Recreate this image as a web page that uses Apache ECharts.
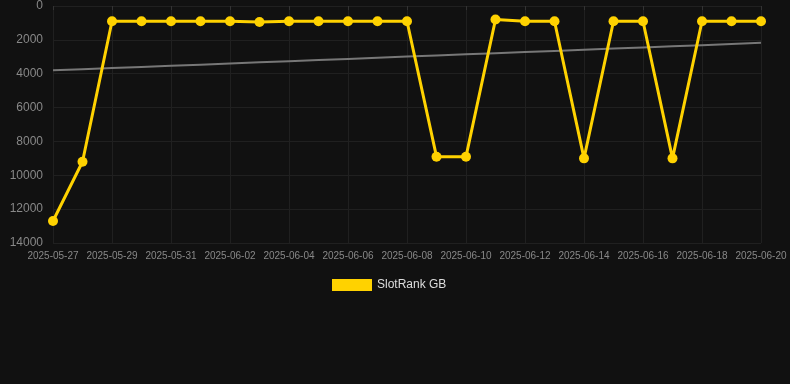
<!DOCTYPE html>
<html>
<head>
<meta charset="utf-8">
<style>
  html, body { margin: 0; padding: 0; background: #111111; }
  #chart { width: 790px; height: 384px; }
</style>
<script src="https://cdn.jsdelivr.net/npm/echarts@6/dist/echarts.min.js"></script>
</head>
<body>
<div id="chart"></div>
<script>
const dates = [
  '2025-05-27', '2025-05-28', '2025-05-29', '2025-05-30', '2025-05-31',
  '2025-06-01', '2025-06-02', '2025-06-03', '2025-06-04', '2025-06-05',
  '2025-06-06', '2025-06-07', '2025-06-08', '2025-06-09', '2025-06-10',
  '2025-06-11', '2025-06-12', '2025-06-13', '2025-06-14', '2025-06-15',
  '2025-06-16', '2025-06-17', '2025-06-18', '2025-06-19', '2025-06-20'
];
const rankGB = [
  12700, 9200, 900, 900, 900,
  900, 900, 950, 900, 900,
  900, 900, 900, 8900, 8900,
  800, 900, 900, 9000, 900,
  900, 9000, 900, 900, 900
];
const yTicks = [0, 2000, 4000, 6000, 8000, 10000, 12000, 14000];

// linear trend of the rank series
const n = rankGB.length;
let sx = 0, sy = 0, sxy = 0, sxx = 0;
rankGB.forEach((v, i) => { sx += i; sy += v; sxy += i * v; sxx += i * i; });
const slope = (n * sxy - sx * sy) / (n * sxx - sx * sx);
const icpt = (sy - slope * sx) / n;
const trend = rankGB.map((v, i) => icpt + slope * i);

const myChart = echarts.init(document.getElementById('chart'));
myChart.setOption({
  backgroundColor: '#111111',
  animation: false,
  grid: { left: 53, right: 29, top: 6, bottom: 141 },
  legend: {
    bottom: 88,
    left: 327,
    itemWidth: 40,
    itemHeight: 12,
    itemGap: 10,
    textStyle: { color: '#dddddd', fontSize: 12, fontFamily: 'Arial, Liberation Sans' },
    data: [{ name: 'SlotRank GB', icon: 'rect' }]
  },
  xAxis: {
    type: 'category',
    boundaryGap: false,
    data: dates,
    axisLine: { show: false },
    axisTick: { show: true, interval: 1, length: 4, lineStyle: { color: '#333333' } },
    axisLabel: {
      interval: 1,
      color: '#888888',
      fontSize: 10,
      margin: 8,
      fontFamily: 'Arial, Liberation Sans'
    },
    splitLine: { show: true, interval: 1, lineStyle: { color: '#202020' } }
  },
  yAxis: {
    type: 'value',
    inverse: true,
    min: yTicks[0],
    max: yTicks[yTicks.length - 1],
    interval: 2000,
    axisLine: { show: false },
    axisTick: { show: false },
    axisLabel: {
      color: '#888888',
      fontSize: 12,
      margin: 10,
      fontFamily: 'Arial, Liberation Sans',
      formatter: v => String(v)
    },
    splitLine: { lineStyle: { color: '#202020' } }
  },
  series: [
    {
      name: 'SlotRank GB',
      type: 'line',
      data: rankGB,
      symbol: 'circle',
      symbolSize: 10,
      lineStyle: { color: '#ffd200', width: 3 },
      itemStyle: { color: '#ffd200' },
      z: 3
    },
    {
      name: 'trend',
      type: 'line',
      data: trend,
      symbol: 'none',
      silent: true,
      lineStyle: { color: '#777777', width: 2 },
      z: 2
    }
  ]
});
</script>
</body>
</html>
